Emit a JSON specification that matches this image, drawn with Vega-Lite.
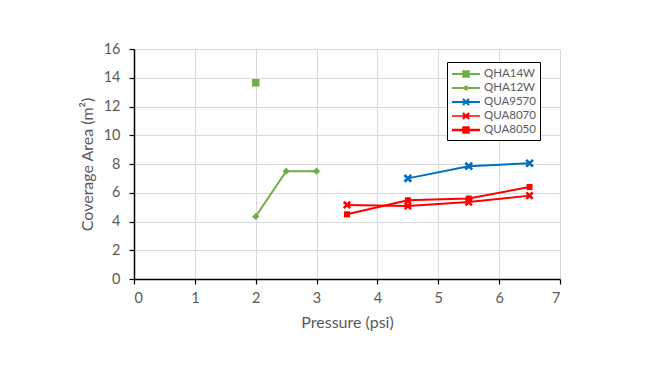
{
  "$schema": "https://vega.github.io/schema/vega-lite/v6.json",
  "width": 426,
  "height": 230,
  "autosize": {"type": "none"},
  "padding": {"left": 134, "top": 49, "right": 100, "bottom": 91},
  "background": "white",
  "config": {
    "font": "Lato",
    "view": {"stroke": null},
    "axis": {
      "grid": true,
      "gridColor": "#D9D9D9",
      "gridWidth": 1,
      "domainColor": "black",
      "domainWidth": 1.5,
      "tickColor": "black",
      "tickSize": 5,
      "tickWidth": 1.2,
      "labelFontSize": 14.5,
      "labelColor": "#595959",
      "titleFontSize": 16,
      "titleFontWeight": "normal",
      "titleColor": "#595959"
    }
  },
  "data": {
    "values": [
      {"series": "QHA14W", "pressure": 2, "area": 13.65},
      {"series": "QHA12W", "pressure": 2, "area": 4.35},
      {"series": "QHA12W", "pressure": 2.5, "area": 7.5},
      {"series": "QHA12W", "pressure": 3, "area": 7.5},
      {"series": "QUA9570", "pressure": 4.5, "area": 7.0},
      {"series": "QUA9570", "pressure": 5.5, "area": 7.85},
      {"series": "QUA9570", "pressure": 6.5, "area": 8.05},
      {"series": "QUA8070", "pressure": 3.5, "area": 5.15},
      {"series": "QUA8070", "pressure": 4.5, "area": 5.08},
      {"series": "QUA8070", "pressure": 5.5, "area": 5.35},
      {"series": "QUA8070", "pressure": 6.5, "area": 5.8},
      {"series": "QUA8050", "pressure": 3.5, "area": 4.5},
      {"series": "QUA8050", "pressure": 4.5, "area": 5.48},
      {"series": "QUA8050", "pressure": 5.5, "area": 5.6},
      {"series": "QUA8050", "pressure": 6.5, "area": 6.4}
    ]
  },
  "encoding": {
    "x": {
      "field": "pressure",
      "type": "quantitative",
      "scale": {"domain": [0, 7], "nice": false},
      "axis": {"values": [0, 1, 2, 3, 4, 5, 6, 7], "title": "Pressure (psi)", "labelPadding": 7, "titlePadding": 10}
    },
    "y": {
      "field": "area",
      "type": "quantitative",
      "scale": {"domain": [0, 16], "nice": false},
      "axis": {"values": [0, 2, 4, 6, 8, 10, 12, 14, 16], "title": "Coverage Area (m²)", "labelPadding": 9, "titlePadding": 8}
    }
  },
  "layer": [
    {
      "mark": {"type": "line"},
      "encoding": {
        "color": {"field": "series", "type": "nominal", "scale": {"domain": ["QHA14W", "QHA12W", "QUA9570", "QUA8070", "QUA8050"], "range": ["#70AD47", "#70AD47", "#0070C0", "#FF0000", "#FF0000"]}, "legend": null},
        "strokeWidth": {"field": "series", "type": "nominal", "scale": {"domain": ["QHA14W", "QHA12W", "QUA9570", "QUA8070", "QUA8050"], "range": [2, 2, 2, 1.75, 2.5]}, "legend": null}
      }
    },
    {
      "mark": {"type": "point", "filled": true, "opacity": 1},
      "encoding": {
        "color": {"field": "series", "type": "nominal", "scale": {"domain": ["QHA14W", "QHA12W", "QUA9570", "QUA8070", "QUA8050"], "range": ["#70AD47", "#70AD47", "#0070C0", "#FF0000", "#FF0000"]}, "legend": null},
        "shape": {"field": "series", "type": "nominal", "scale": {"domain": ["QHA14W", "QHA12W", "QUA9570", "QUA8070", "QUA8050"], "range": ["square", "diamond", "M-0.72,-1.28L1.28,0.72L0.72,1.28L-1.28,-0.72Z M-1.28,0.72L0.72,-1.28L1.28,-0.72L-0.72,1.28Z", "M-0.72,-1.28L1.28,0.72L0.72,1.28L-1.28,-0.72Z M-1.28,0.72L0.72,-1.28L1.28,-0.72L-0.72,1.28Z", "square"]}, "legend": null},
        "size": {"field": "series", "type": "nominal", "scale": {"domain": ["QHA14W", "QHA12W", "QUA9570", "QUA8070", "QUA8050"], "range": [56, 36, 45, 45, 60]}, "legend": null}
      }
    },
    {
      "mark": {"type": "point", "filled": true, "opacity": 0},
      "encoding": {
        "color": {"field": "series", "type": "nominal", "scale": {"domain": ["QHA14W", "QHA12W", "QUA9570", "QUA8070", "QUA8050"], "range": ["#70AD47", "#70AD47", "#0070C0", "#FF0000", "#FF0000"]},
          "legend": {"title": null, "orient": "none", "legendX": 313, "legendY": 13, "strokeColor": "black", "fillColor": "white", "padding": 4, "rowPadding": 0, "symbolSize": 240, "symbolStrokeWidth": 0, "symbolOpacity": 1, "symbolOffset": 7, "labelOffset": 10, "labelFontSize": 11.5, "labelColor": "#595959"}},
        "shape": {"field": "series", "type": "nominal", "scale": {"domain": ["QHA14W", "QHA12W", "QUA9570", "QUA8070", "QUA8050"], "range": [
          "M-1.8,-0.13H1.8V0.13H-1.8Z M-0.48,-0.48H0.48V0.48H-0.48Z",
          "M-1.8,-0.12H1.8V0.12H-1.8Z M0,-0.4L0.4,0L0,0.4L-0.4,0Z",
          "M-1.8,-0.12H1.8V0.12H-1.8Z M-0.3,-0.5L0.5,0.3L0.3,0.5L-0.5,-0.3Z M-0.5,0.3L0.3,-0.5L0.5,-0.3L-0.3,0.5Z",
          "M-1.8,-0.11H1.8V0.11H-1.8Z M-0.3,-0.5L0.5,0.3L0.3,0.5L-0.5,-0.3Z M-0.5,0.3L0.3,-0.5L0.5,-0.3L-0.3,0.5Z",
          "M-1.8,-0.15H1.8V0.15H-1.8Z M-0.48,-0.48H0.48V0.48H-0.48Z"
        ]},
          "legend": {"title": null, "orient": "none", "legendX": 313, "legendY": 13, "strokeColor": "black", "fillColor": "white", "padding": 4, "rowPadding": 0, "symbolSize": 240, "symbolStrokeWidth": 0, "symbolOpacity": 1, "symbolOffset": 7, "labelOffset": 10, "labelFontSize": 11.5, "labelColor": "#595959"}}
      }
    }
  ],
  "resolve": {"scale": {"color": "independent", "shape": "independent", "size": "independent", "strokeWidth": "independent"}}
}
